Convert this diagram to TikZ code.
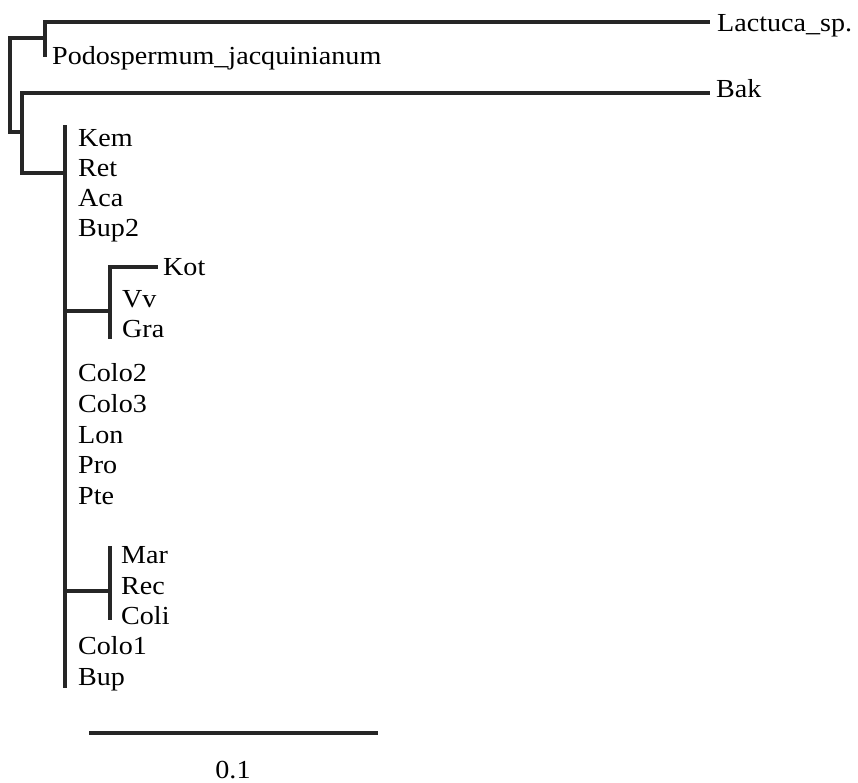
\documentclass[tikz,border=0pt]{standalone}
\usepackage{fontspec}
\setmainfont[FakeStretch=1.08]{Liberation Serif}
\usepackage{tikz}

\begin{document}
\begin{tikzpicture}[x=1pt,y=-1pt,
	branch/.style={line width=3.2pt,line cap=rect,black!85},
	taxon/.style={anchor=base west,inner sep=0pt,font=\fontsize{26}{30}\selectfont}]
	\useasboundingbox (0,0) rectangle (858,783);
	% internal nodes
	\coordinate (rootA) at (10,38);
	\coordinate (rootB) at (10,132);
	\coordinate (nLac) at (45,38);
	\coordinate (nLacT) at (45,22);
	\coordinate (nLacB) at (45,55);
	\coordinate (nBak) at (22,132);
	\coordinate (nBakT) at (22,93);
	\coordinate (nBakB) at (22,173);
	\coordinate (nIn) at (65,173);
	\coordinate (nInT) at (65,127);
	\coordinate (nInB) at (65,686);
	\coordinate (nKot) at (110,311);
	\coordinate (nKotT) at (110,267);
	\coordinate (nKotB) at (110,337);
	\coordinate (nMar) at (110,591);
	\coordinate (nMarT) at (110,548);
	\coordinate (nMarB) at (110,618);
	\coordinate (tLac) at (708,22);
	\coordinate (tBak) at (708,93);
	\coordinate (tKot) at (156,267);
	% taxa
	\node[taxon] (Lac) at (717,32) {Lactuca\_sp.};
	\node[taxon] (Pod) at (52,65) {Podospermum\_jacquinianum};
	\node[taxon] (Bak) at (716,98) {Bak};
	\node[taxon] (Kem) at (78,147) {Kem};
	\node[taxon] (Ret) at (78,177) {Ret};
	\node[taxon] (Aca) at (78,207) {Aca};
	\node[taxon] (Bup2) at (78,237) {Bup2};
	\node[taxon] (Kot) at (163,276) {Kot};
	\node[taxon] (Vv) at (122,307) {Vv};
	\node[taxon] (Gra) at (122,337) {Gra};
	\node[taxon] (Colo2) at (78,381) {Colo2};
	\node[taxon] (Colo3) at (78,412) {Colo3};
	\node[taxon] (Lon) at (78,443) {Lon};
	\node[taxon] (Pro) at (78,473) {Pro};
	\node[taxon] (Pte) at (78,504) {Pte};
	\node[taxon] (Mar) at (121,563) {Mar};
	\node[taxon] (Rec) at (121,594) {Rec};
	\node[taxon] (Coli) at (121,624) {Coli};
	\node[taxon] (Colo1) at (78,654) {Colo1};
	\node[taxon] (Bup) at (78,685) {Bup};
	% branches
	\draw[branch] (rootA) -- (rootB);
	\draw[branch] (rootA) -- (nLac);
	\draw[branch] (nLacT) -- (nLacB);
	\draw[branch] (nLacT) -- (tLac);
	\draw[branch] (rootB) -- (nBak);
	\draw[branch] (nBakT) -- (nBakB);
	\draw[branch] (nBakT) -- (tBak);
	\draw[branch] (nBakB) -- (nIn);
	\draw[branch] (nInT) -- (nInB);
	\draw[branch] (nIn |- nKot) -- (nKot);
	\draw[branch] (nKotT) -- (nKotB);
	\draw[branch] (nKotT) -- (tKot);
	\draw[branch] (nIn |- nMar) -- (nMar);
	\draw[branch] (nMarT) -- (nMarB);
	% scale bar
	\coordinate (sL) at (91,733);
	\coordinate (sR) at (376,733);
	\draw[branch] (sL) -- (sR);
	\node[taxon,anchor=base] (scale) at (233,778) {0.1};
\end{tikzpicture}
\end{document}
